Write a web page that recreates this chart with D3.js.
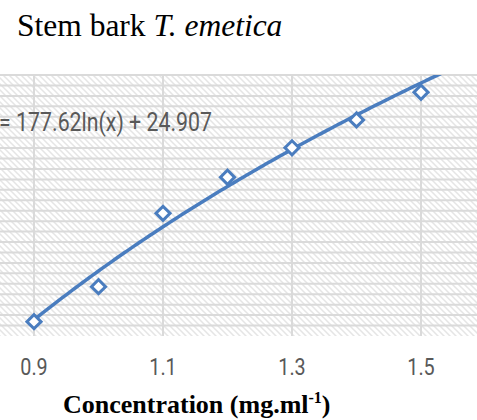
<!DOCTYPE html>
<html>
<head>
<meta charset="utf-8">
<script src="https://cdn.jsdelivr.net/npm/d3@7"></script>
<style>
  body { margin: 0; background: #fff; }
  svg { display: block; }
</style>
</head>
<body>
<div id="chart"></div>
<script>
  var width = 477,
    height = 420;

  // measured points
  var concentration = [0.9, 1.0, 1.1, 1.2, 1.3, 1.4, 1.5];
  var inhibition = [5.5, 18.9, 47.0, 60.8, 72.1, 82.8, 93.4];
  var xTicks = [0.9, 1.1, 1.3, 1.5];
  var yGrid = d3.range(0, 101, 4);
  // log trendline y = a*ln(x) + b
  var trendA = 177.62, trendB = 24.907;
  var trendLabel = 'y = 177.62ln(x) + 24.907';

  var plot = { left: 0, right: 477, top: 75, bottom: 336 };
  var blue = '#4a7dbf';

  var svg = d3.select('#chart').append('svg')
    .attr('width', width)
    .attr('height', height);

  var x = d3.scaleLinear().domain([0.9, 1.5]).range([34, 421]);
  var y = d3.scaleLinear().domain([0, 100]).range([plot.bottom, plot.top]);

  var defs = svg.append('defs');
  var pat = defs.append('pattern')
    .attr('id', 'hatch')
    .attr('patternUnits', 'userSpaceOnUse')
    .attr('width', 6)
    .attr('height', 6);
  pat.append('rect').attr('width', 6).attr('height', 6).attr('fill', '#fff');
  pat.append('path')
    .attr('d', 'M-1,-1 L7,7 M-4,2 L2,8 M4,-2 L8,2')
    .attr('stroke', '#e5e5e5')
    .attr('stroke-width', 1.5);

  defs.append('clipPath').attr('id', 'clip')
    .append('rect')
    .attr('x', plot.left).attr('y', plot.top)
    .attr('width', plot.right - plot.left)
    .attr('height', plot.bottom - plot.top);

  // background
  svg.append('rect')
    .attr('x', plot.left).attr('y', plot.top)
    .attr('width', plot.right - plot.left)
    .attr('height', plot.bottom - plot.top)
    .attr('fill', 'url(#hatch)');

  // gridlines
  svg.append('g').selectAll('line.h')
    .data(yGrid.filter(function(d) { return d > 0; }))
    .enter().append('line')
    .attr('x1', plot.left).attr('x2', plot.right)
    .attr('y1', function(d) { return y(d); })
    .attr('y2', function(d) { return y(d); })
    .attr('stroke', '#dadada')
    .attr('stroke-width', 2);

  svg.append('g').selectAll('line.v')
    .data(xTicks)
    .enter().append('line')
    .attr('x1', function(d) { return x(d); })
    .attr('x2', function(d) { return x(d); })
    .attr('y1', plot.top).attr('y2', plot.bottom)
    .attr('stroke', '#dadada')
    .attr('stroke-width', 2);

  // trendline
  var trendX = d3.range(0.9, 1.6, 0.005);
  var line = d3.line()
    .x(function(d) { return x(d); })
    .y(function(d) { return y(trendA * Math.log(d) + trendB); });

  svg.append('path')
    .datum(trendX)
    .attr('clip-path', 'url(#clip)')
    .attr('d', line)
    .attr('fill', 'none')
    .attr('stroke', blue)
    .attr('stroke-width', 3.5);

  // markers
  var diamond = d3.symbol().type(d3.symbolSquare).size(100);
  svg.append('g').selectAll('path')
    .data(concentration)
    .enter().append('path')
    .attr('d', diamond)
    .attr('transform', function(d, i) {
      return 'translate(' + x(d) + ',' + y(inhibition[i]) + ') rotate(45)';
    })
    .attr('fill', '#fff')
    .attr('stroke', blue)
    .attr('stroke-width', 3);

  // equation label
  svg.append('text')
    .attr('transform', 'translate(212,131) scale(0.82,1)')
    .attr('text-anchor', 'end')
    .style('font-family', 'Roboto, sans-serif')
    .style('font-size', '26px')
    .style('fill', '#595959')
    .text(trendLabel);

  // x tick labels
  svg.append('g').selectAll('text')
    .data(xTicks)
    .enter().append('text')
    .attr('transform', function(d) { return 'translate(' + x(d) + ',375) scale(0.86,1)'; })
    .attr('text-anchor', 'middle')
    .style('font-family', 'Roboto, sans-serif')
    .style('font-size', '23px')
    .style('fill', '#595959')
    .text(function(d) { return d3.format('.1f')(d); });

  // title
  var title = svg.append('text')
    .attr('x', 17).attr('y', 36)
    .style('font-family', '"Liberation Serif", "Times New Roman", serif')
    .style('font-size', '31.5px')
    .style('fill', '#000');
  title.append('tspan').text('Stem bark ');
  title.append('tspan').style('font-style', 'italic').text('T. emetica');

  // axis title
  var xt = svg.append('text')
    .attr('x', 63).attr('y', 413)
    .style('font-family', '"Liberation Serif", "Times New Roman", serif')
    .style('font-size', '26px')
    .style('font-weight', 'bold')
    .style('fill', '#000');
  xt.append('tspan').text('Concentration (mg.ml');
  xt.append('tspan').attr('dy', -10).style('font-size', '16px').text('-1');
  xt.append('tspan').attr('dy', 10).text(')');
</script>
</body>
</html>
